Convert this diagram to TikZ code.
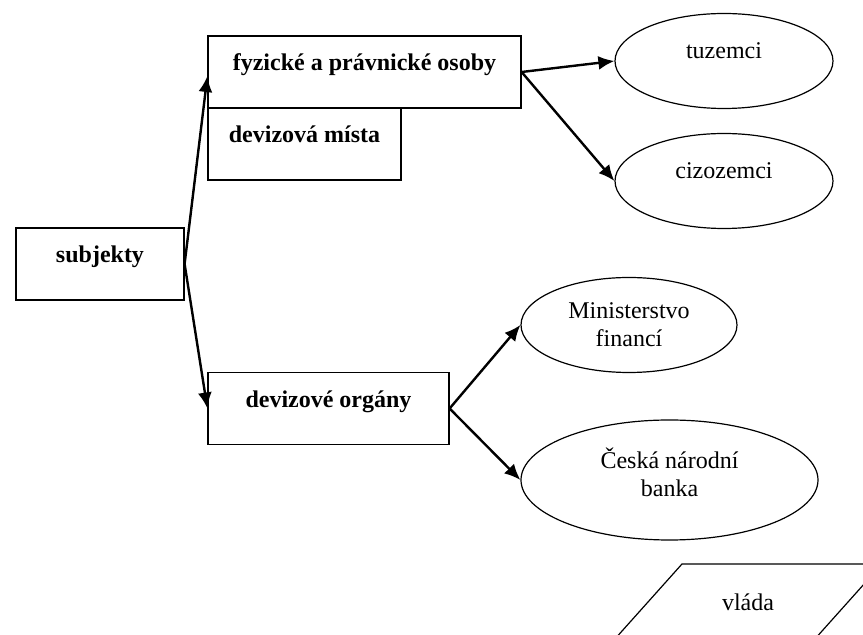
\documentclass[tikz,border=0pt,12pt]{standalone}
\usepackage{fontspec}
\setmainfont{Liberation Serif}
\usetikzlibrary{shapes.geometric,arrows.meta}

\begin{document}
\begin{tikzpicture}[x=0.5pt,y=-0.5pt,
  box/.style={draw,line width=0.6pt,inner xsep=0pt,inner ysep=0pt,
    text height=17.5pt,text depth=18.5pt,font=\bfseries},
  oval/.style={draw,ellipse,line width=0.6pt,inner sep=0pt,align=center,
    font=\fontsize{12}{14}\selectfont},
  link/.style={-{Latex[length=8pt,width=7pt]},line width=1.2pt}]

\useasboundingbox (0,0) rectangle (863,635);
\clip (0,0) rectangle (863,635);

% --- Boxes ---
\node[box,minimum width=84pt] (subj) at (100,264) {subjekty};
\node[box,minimum width=156.5pt] (fpo) at (364.5,72) {fyzické a právnické osoby};
\node[box,minimum width=96.5pt] (dm) at (304.5,144) {devizová místa};
\node[box,minimum width=120.5pt] (dorg) at (328.5,408.5) {devizové orgány};

% --- Ellipses ---
\node[oval,minimum width=109pt,minimum height=47.5pt,text height=8pt,text depth=10.4pt]
  (tuz) at (724,61) {tuzemci};
\node[oval,minimum width=109pt,minimum height=47.5pt,text height=8pt,text depth=10.4pt]
  (cizo) at (724,181) {cizozemci};
\node[oval,minimum width=108pt,minimum height=47.5pt] (mf) at (629,325) {Ministerstvo\\financí};
\node[oval,minimum width=148.5pt,minimum height=60pt,text depth=8pt]
  (cnb) at (669.5,480) {Česká národní\\banka};

% --- Parallelogram (cut by the page edge) ---
\draw[line width=0.6pt] (682,564) -- (882,564) -- (814,640) -- (614,640) -- cycle;
\node (vlada) at (748,602) {vláda};

% --- Arrows ---
\draw[link] (subj.east) -- ([yshift=-2pt]fpo.west);
\draw[link] (subj.east) -- (dorg.west);
\draw[link] (fpo.east) -- (tuz.west);
\draw[link] (fpo.east) -- (cizo.west);
\draw[link] (dorg.east) -- (mf.west);
\draw[link] (dorg.east) -- (cnb.west);

\end{tikzpicture}
\end{document}
